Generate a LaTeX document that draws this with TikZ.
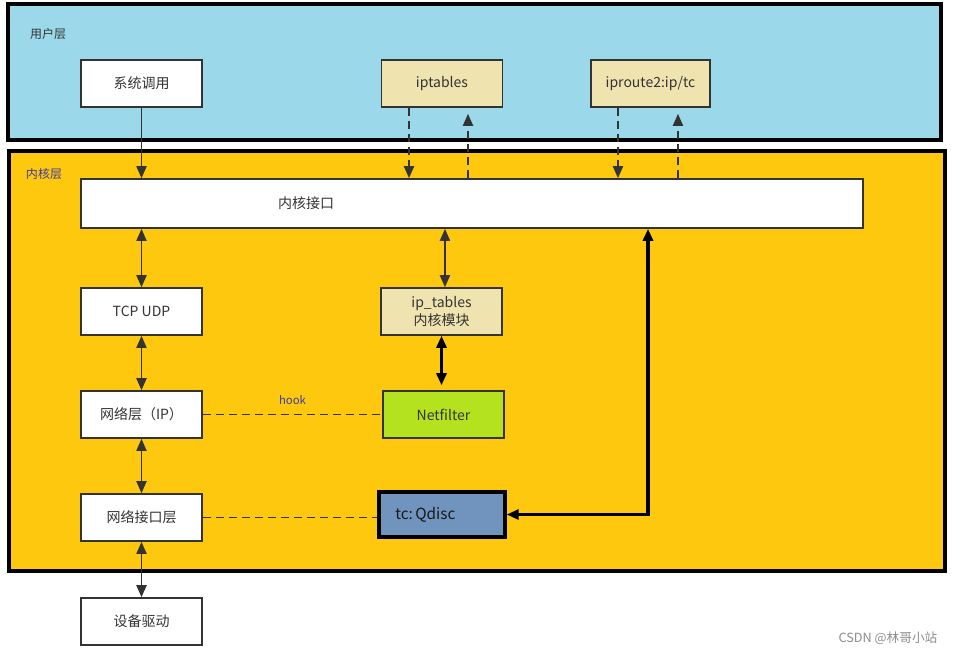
\documentclass[tikz,border=0pt]{standalone}
\usepackage{fontspec}
\setmainfont{Noto Sans CJK SC}
\usetikzlibrary{positioning,arrows.meta}

\definecolor{userblue}{RGB}{155,216,233}
\definecolor{kernelyellow}{RGB}{254,200,14}
\definecolor{wheatbox}{RGB}{239,227,176}
\definecolor{filtergreen}{RGB}{181,226,30}
\definecolor{qdiscblue}{RGB}{112,148,190}
\definecolor{linegray}{RGB}{51,51,51}
\definecolor{hookblue}{RGB}{60,60,160}

\begin{document}
\begin{tikzpicture}[
    x=0.75pt, y=-0.75pt,
    layer/.style={draw=black, line width=3.4pt},
    box/.style={rectangle, draw=linegray, line width=1.2pt, fill=white, text=black!80,
        minimum width=90.75pt, minimum height=35.25pt, inner sep=0pt,
        font=\fontsize{10.5}{13}\selectfont},
    tag/.style={text=black!80, font=\fontsize{9}{11}\selectfont},
    conn/.style={draw=linegray, line width=1.4pt},
    dconn/.style={conn, dash pattern=on 6pt off 3.75pt},
    tip/.style={-{Triangle[length=9pt,width=7.5pt]}},
    tips/.style={{Triangle[length=9pt,width=7.5pt]}-{Triangle[length=9pt,width=7.5pt]}}
]
\useasboundingbox (0,0) rectangle (973,658);

% layers
\draw[layer, fill=userblue] (8,4) rectangle (941,140);
\draw[layer, fill=kernelyellow] (9,151) rectangle (945,571);
\node[tag] (userlbl) at (48,34) {用户层};
\node[tag, text=hookblue] (kernellbl) at (44,174) {内核层};

% user space
\node[box] (syscall) at (141.5,83.5) {系统调用};
\node[box, fill=wheatbox] (iptables) at (442,83.5) {iptables};
\node[box, fill=wheatbox, minimum width=89.25pt] (iproute) at (650.5,83.5) {iproute2:ip/tc};

% kernel
\node[box, minimum width=586.5pt, minimum height=36.75pt,
    label={[xshift=-124.5pt, text=black!80, font=\fontsize{10.5}{13}\selectfont]center:内核接口}]
    (kif) at (472,203.5) {};
\node[box] (tcpudp) at (141.5,311.5) {TCP UDP};
\node[box, fill=wheatbox, align=center] (iptmod) at (441.5,311.5) {ip\_tables\\内核模块};
\node[box] (ip) at (141.5,414.5) {网络层（IP）};
\node[box, fill=filtergreen] (netfilter) at (443.5,414.5) {Netfilter};
\node[box] (nic) at (141.5,517.5) {网络接口层};
\node[box, fill=qdiscblue, draw=black, line width=2.6pt, minimum width=94.5pt,
    minimum height=33.75pt, text width=70pt, align=left, text=black!90,
    font=\fontsize{11.5}{13}\selectfont] (qdisc) at (442,514.5) {tc:\hspace{0.15em}Qdisc};
\node[box] (driver) at (141.5,621.5) {设备驱动};

\node[text=black!45, font=\fontsize{9.5}{11}\selectfont] (mark) at (888,638) {CSDN @林哥小站};

% user -> kernel
\coordinate (iptdown) at ([xshift=-24.75pt]iptables.south);
\coordinate (iptup) at ([xshift=19.5pt]iptables.south);
\coordinate (iprdown) at ([xshift=-24.4pt]iproute.south);
\coordinate (iprup) at ([xshift=20.6pt]iproute.south);
\coordinate (tcup) at ([xshift=132pt]kif.south);

\draw[conn, tip] (syscall.south) -- (syscall.south |- kif.north);
\draw[dconn, tip] (iptdown) -- (iptdown |- kif.north);
\draw[dconn, tip] (iptup |- kif.north) -- ([yshift=-4.5pt]iptup);
\draw[dconn, tip] (iprdown) -- (iprdown |- kif.north);
\draw[dconn, tip] (iprup |- kif.north) -- ([yshift=-4.5pt]iprup);

% kernel stack
\draw[conn, tips] (tcpudp.north |- kif.south) -- (tcpudp.north);
\draw[conn, tips] ([xshift=2.6pt]iptmod.north |- kif.south) -- ([xshift=2.6pt]iptmod.north);
\draw[conn, tips] (tcpudp.south) -- (ip.north);
\draw[conn, tips, draw=black, line width=2.2pt] (iptmod.south) -- ([yshift=3.75pt]iptmod.south |- netfilter.north);
\draw[conn, tips] (ip.south) -- (nic.north);
\draw[conn, tips] (nic.south) -- (driver.north);

% hooks
\draw[dconn] (ip.east) -- node[above=3pt, font=\fontsize{8.5}{10}\selectfont, text=hookblue] (hook) {hook} (netfilter.west);
\draw[dconn] (nic.east) -- (nic.east -| qdisc.west);
\draw[conn, tips, draw=black, line width=2.4pt] (qdisc.east) -| (tcup);

\end{tikzpicture}
\end{document}
